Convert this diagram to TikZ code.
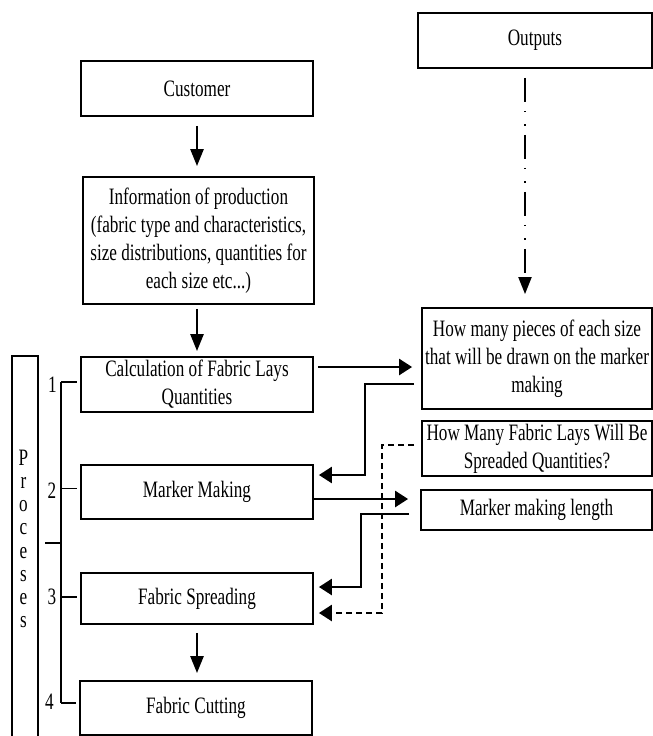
\documentclass[tikz,border=0pt]{standalone}
\usepackage{fontspec}
\setmainfont[FakeStretch=0.73]{Liberation Serif}
\usetikzlibrary{arrows.meta,positioning,calc}

\begin{document}
\begin{tikzpicture}[x=1pt,y=-1pt,font=\fontsize{23.5}{28}\selectfont,
 box/.style={draw,line width=1.8pt,align=center,inner sep=0pt,minimum width=232pt},
 line/.style={line width=1.9pt},
 varr/.style={line width=2.5pt,-{Triangle[length=17pt,width=13pt]}},
 harr/.style={line width=2.5pt,-{Triangle[length=13pt,width=16pt]}}]
\useasboundingbox (0,0) rectangle (653,736);
\clip (0,0) rectangle (653,736);
\node[box,minimum height=55pt] (customer) at (197,88.5) {Customer};
\node[box,minimum width=231pt,minimum height=127pt] (info) at (198.5,240.5) {Information of production\\(fabric type and characteristics,\\size distributions, quantities for\\each size etc...)};
\node[box,minimum height=55pt] (calclay) at (197,384.5) {Calculation of Fabric Lays\\Quantities};
\node[box,minimum height=54pt] (marker) at (197,492) {Marker Making};
\node[box,minimum height=51pt] (spread) at (197,598.5) {Fabric Spreading};
\node[box,minimum height=54pt] (cutting) at (196,708) {Fabric Cutting};
\node[box,minimum width=234pt,minimum height=55pt] (outputs) at (535,40.5) {Outputs};
\node[box,minimum width=230pt,minimum height=101pt] (pieces) at (537,358.5) {How many pieces of each size\\that will be drawn on the marker\\making};
\node[box,minimum width=230pt,minimum height=55pt] (laysq) at (537,448.5) {How Many Fabric Lays Will Be\\Spreaded Quantities?};
\node[box,minimum width=231pt,minimum height=40pt] (mlength) at (536.5,510) {Marker making length};
\node[draw,line width=1.8pt,minimum width=26pt,minimum height=420pt,inner sep=0pt,anchor=north] (proc) at (25,355) {};
\node[align=center,font=\fontsize{23.5}{23.2}\selectfont] (plabel) at (23.5,539) {P\\r\\o\\c\\e\\s\\e\\s};
\node (n1) at (52.5,385) {1};
\node (n2) at (52,491) {2};
\node (n3) at (52,597) {3};
\node (n4) at (49.5,702) {4};
\coordinate (t0) at (61,543);
\coordinate (t1) at (61,382);
\coordinate (t2) at (61,488.5);
\coordinate (t3) at (61,597);
\coordinate (t4) at (61,703);
\draw[line] (t1) -- (t4);
\foreach \i/\b in {1/calclay,2/marker,3/spread,4/cutting}
  \draw[line,shorten >=3pt] (t\i) -- (t\i -| \b.west);
\draw[line,shorten >=6pt] (t0) -- (t0 -| proc.east);
\draw[varr,shorten <=9pt,shorten >=10pt] (customer.south) -- (customer.south |- info.north);
\draw[varr,shorten <=4pt,shorten >=5pt] (calclay.north |- info.south) -- (calclay.north);
\draw[varr,shorten <=8pt,shorten >=7pt] (spread.south) -- (spread.south |- cutting.north);
\coordinate (o1) at ([xshift=-10pt]outputs.south);
\draw[varr,line width=2pt,dash pattern=on 24pt off 9pt on 1.5pt off 12pt on 1.5pt off 9pt,shorten <=9pt,shorten >=13pt] (o1) -- (o1 |- pieces.north);
\coordinate (a1) at ([yshift=17.5pt]calclay.east);
\draw[harr,shorten <=4pt,shorten >=9pt] (a1) -- (a1 -| pieces.west);
\coordinate (b1) at ([yshift=-25.5pt]pieces.west);
\coordinate (b2) at ([yshift=17pt]marker.east);
\draw[harr,shorten <=7pt,shorten >=5pt] (b1) -- ++(-56,0) |- (b2);
\coordinate (c1) at ([yshift=-7pt]marker.east);
\draw[harr,shorten >=12pt] (c1) -- (c1 -| mlength.west);
\coordinate (d1) at ([yshift=-4pt]mlength.west);
\coordinate (d2) at ([yshift=11.5pt]spread.east);
\draw[harr,shorten <=11pt,shorten >=5pt] (d1) -- ++(-59,0) |- (d2);
\coordinate (e1) at ([yshift=3.5pt]laysq.west);
\coordinate (e2) at ([yshift=-14.5pt]spread.east);
\draw[harr,dash pattern=on 6pt off 4pt,shorten <=7pt,shorten >=5pt] (e1) -- ++(-39,0) |- (e2);
\end{tikzpicture}
\end{document}
